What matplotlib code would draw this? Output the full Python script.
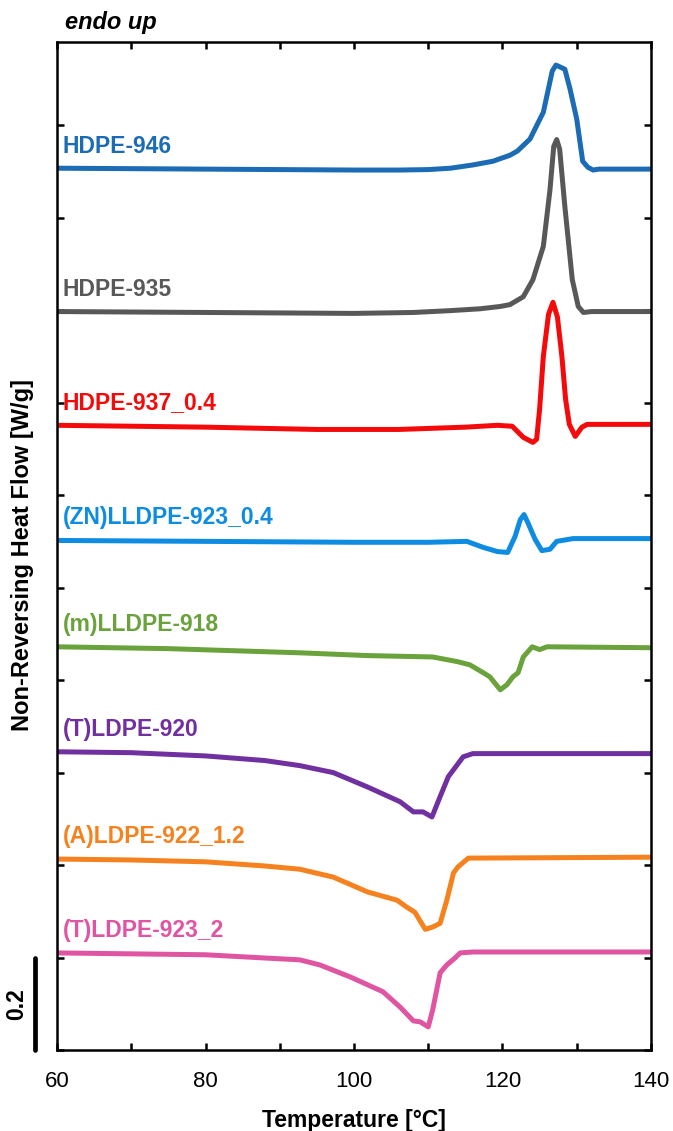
import matplotlib
matplotlib.use("Agg")
import matplotlib.pyplot as plt
import matplotlib.transforms as mtransforms
from matplotlib.ticker import MultipleLocator
import numpy as np

plt.rcParams['font.family'] = ['Liberation Sans', 'DejaVu Sans']

# sample names, top to bottom
names = ['HDPE-946', 'HDPE-935', 'HDPE-937_0.4', '(ZN)LLDPE-923_0.4',
         '(m)LLDPE-918', '(T)LDPE-920', '(A)LDPE-922_1.2', '(T)LDPE-923_2']
colors = ['#1b6bb5', '#585858', '#f40a0a', '#0e8ce2',
          '#6aa23c', '#7030a0', '#f5821f', '#e055a2']
# vertical shift of each curve [W/g]
offsets = [1.905, 1.597, 1.351, 1.102, 0.872, 0.645, 0.413, 0.210]

# temperature [°C] and non-reversing heat flow [W/g] for each sample
t_946 = [60, 70, 80, 90, 100, 106, 110, 113, 116, 118.7, 121, 122, 123.7, 125.5,
         126.7, 127.2, 128.4, 129.1, 130, 130.8, 131.5, 132.2, 133, 140]
q_946 = [0.002, 0.001, 0, -0.001, -0.002, -0.002, -0.001, 0.002, 0.009, 0.017, 0.030, 0.039, 0.065, 0.123,
         0.212, 0.225, 0.216, 0.173, 0.108, 0.017, 0.004, -0.002, 0, 0]

t_935 = [60, 80, 100, 108, 113, 117, 119.7, 121, 122.8, 124.1, 125.5, 126.4,
         126.9, 127.3, 127.7, 128.4, 129.4, 130.2, 130.9, 132, 140]
q_935 = [0, -0.002, -0.004, -0.002, 0.002, 0.006, 0.011, 0.015, 0.032, 0.069, 0.141, 0.264,
         0.357, 0.372, 0.351, 0.227, 0.069, 0.011, -0.002, 0, 0]

t_937 = [60, 80, 95, 106, 115, 119.3, 121.3, 122.8, 124.1, 124.6, 125.0, 125.5, 126.2,
         126.8, 127.4, 128.0, 128.5, 129.0, 129.8, 130.7, 131.4, 140]
q_937 = [0, -0.004, -0.009, -0.009, -0.004, 0, -0.002, -0.026, -0.037, -0.030, 0.035, 0.149, 0.240,
         0.266, 0.234, 0.149, 0.056, 0.002, -0.024, -0.004, 0.002, 0.002]

t_923zn = [60, 80, 100, 110, 115.2, 117.4, 119.3, 120.7, 121.7, 122.4, 122.9,
           123.4, 124.4, 125.3, 126.4, 127.3, 129.5, 140]
q_923zn = [0, -0.002, -0.004, -0.004, -0.002, -0.015, -0.024, -0.026, 0.009, 0.045, 0.056,
           0.039, 0.002, -0.022, -0.019, -0.002, 0.004, 0.004]

t_918 = [60, 75, 92.7, 101.8, 110.6, 113.9, 115.6, 117.4, 118.3, 119.7, 120.6,
         121.4, 122.1, 122.8, 124, 125, 126, 140]
q_918 = [0, -0.004, -0.013, -0.019, -0.022, -0.032, -0.039, -0.056, -0.065, -0.093, -0.082,
         -0.065, -0.056, -0.022, 0, -0.006, 0, -0.002]

t_920 = [60, 70, 80, 88, 92.7, 97.2, 101.8, 106.2, 108, 109.3, 110.5, 111.6,
         112.7, 114.7, 116, 140]
q_920 = [0, -0.002, -0.009, -0.019, -0.030, -0.045, -0.076, -0.108, -0.130, -0.130, -0.141, -0.097,
         -0.054, -0.011, -0.004, -0.004]

t_922 = [60, 70, 80, 88, 92.7, 97.2, 101.8, 105.8, 107.1, 108.2, 109.6, 110.6,
         111.6, 112.5, 113.4, 114, 115.4, 140]
q_922 = [0, -0.002, -0.006, -0.015, -0.022, -0.039, -0.071, -0.089, -0.104, -0.115, -0.152, -0.147,
         -0.139, -0.089, -0.030, -0.017, 0.002, 0.004]

t_923t = [60, 70, 80, 88, 92.7, 95.4, 99.5, 103.9, 106.2, 108, 108.9, 110,
          110.6, 111.6, 112.5, 113.6, 114.3, 116, 140]
q_923t = [0, -0.002, -0.004, -0.011, -0.015, -0.026, -0.052, -0.084, -0.117, -0.147, -0.149, -0.160,
          -0.123, -0.043, -0.026, -0.011, 0, 0.002, 0.002]

temps = [t_946, t_935, t_937, t_923zn, t_918, t_920, t_922, t_923t]
flows = [q_946, q_935, q_937, q_923zn, q_918, q_920, q_922, q_923t]

fig = plt.figure(figsize=(6.73, 11.31), dpi=100)
ax = fig.add_axes([0.0847, 0.0716, 0.8826, 0.8913])

for name, c, off, t, q in zip(names, colors, offsets, temps, flows):
    y = np.array(q) + off
    ax.plot(t, y, color=c, lw=3.6, solid_joinstyle='round', solid_capstyle='butt')
    ax.annotate(name, xy=(60, off), xytext=(4, 11.5), textcoords='offset points',
                color=c, fontsize=16.5, fontweight='bold', va='baseline', ha='left')

ax.set_xlim(60, 140)
ax.set_ylim(0, 2.18)
ax.xaxis.set_major_locator(MultipleLocator(20))
ax.xaxis.set_minor_locator(MultipleLocator(10))
ax.yaxis.set_major_locator(MultipleLocator(0.2))
ax.tick_params(axis='both', which='both', direction='in', top=True, right=True,
               width=1.8, length=5, labelsize=16, pad=15)
ax.tick_params(axis='y', labelleft=False)
for sp in ax.spines.values():
    sp.set_linewidth(1.8)

ax.set_xlabel('Temperature [°C]', fontsize=16.5, fontweight='bold', labelpad=12)
fig.text(0.033, 0.509, 'Non-Reversing Heat Flow [W/g]', rotation=90,
         fontsize=17, fontweight='bold', ha='center', va='center')
fig.text(0.097, 0.98, 'endo up', fontsize=17, fontweight='bold', style='italic',
         ha='left', va='center')

# 0.2 W/g scale bar
trans = mtransforms.blended_transform_factory(ax.transAxes, ax.transData)
ax.plot([-0.037, -0.037], [0, 0.2], transform=trans, color='black', lw=3.4,
        solid_capstyle='round', clip_on=False)
ax.text(-0.068, 0.1, '0.2', transform=trans, rotation=90, fontsize=16.5,
        fontweight='bold', ha='center', va='center')

fig.savefig('out.png', dpi=100)
